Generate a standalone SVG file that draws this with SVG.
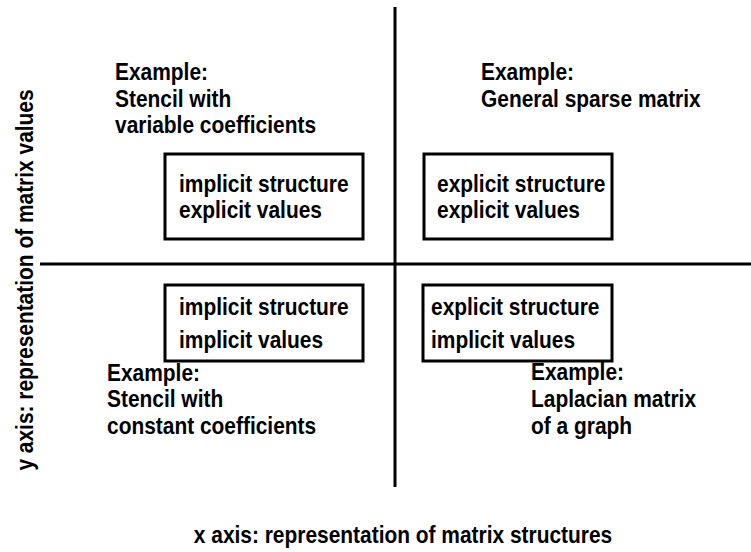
<svg xmlns="http://www.w3.org/2000/svg" width="751" height="552" viewBox="0 0 751 552">
<style>
text{font-family:"Liberation Sans",Arial,sans-serif;font-weight:bold;font-size:23px;fill:#000}
.box{fill:#fff;stroke:#000;stroke-width:3}
.axis{stroke:#000;stroke-width:3;fill:none}
</style>
<rect width="751" height="552" fill="#fff"/>
<g id="connectors">
<line class="axis" x1="395" y1="7" x2="395" y2="487"/>
<line class="axis" x1="40" y1="264" x2="751" y2="264"/>
</g>
<g id="box-tl"><rect class="box" x="165" y="154" width="198" height="85"/>
<text transform="translate(179,192) scale(0.91,1)">implicit structure</text><text transform="translate(179,218) scale(0.91,1)">explicit values</text></g>
<g id="box-tr"><rect class="box" x="424" y="154" width="188" height="85"/>
<text transform="translate(437,192) scale(0.91,1)">explicit structure</text><text transform="translate(437,218) scale(0.91,1)">explicit values</text></g>
<g id="box-bl"><rect class="box" x="165" y="285" width="198" height="76"/>
<text transform="translate(179,315) scale(0.91,1)">implicit structure</text><text transform="translate(179,348) scale(0.91,1)">implicit values</text></g>
<g id="box-br"><rect class="box" x="423" y="285" width="189" height="76"/>
<text transform="translate(431,315) scale(0.91,1)">explicit structure</text><text transform="translate(431,348) scale(0.91,1)">implicit values</text></g>
<g id="ex-tl"><text transform="translate(115,80) scale(0.91,1)">Example:</text><text transform="translate(115,107) scale(0.91,1)">Stencil with</text><text transform="translate(115,133) scale(0.91,1)">variable coefficients</text></g>
<g id="ex-tr"><text transform="translate(481,80) scale(0.91,1)">Example:</text><text transform="translate(481,107) scale(0.91,1)">General sparse matrix</text></g>
<g id="ex-bl"><text transform="translate(107,381) scale(0.91,1)">Example:</text><text transform="translate(107,407) scale(0.91,1)">Stencil with</text><text transform="translate(107,434) scale(0.91,1)">constant coefficients</text></g>
<g id="ex-br"><text transform="translate(531,380) scale(0.91,1)">Example:</text><text transform="translate(531,407) scale(0.91,1)">Laplacian matrix</text><text transform="translate(531,434) scale(0.91,1)">of a graph</text></g>
<g id="x-label"><text transform="translate(403,543) scale(0.91,1)" text-anchor="middle">x axis: representation of matrix structures</text></g>
<g id="y-label"><text transform="translate(33,280) rotate(-90) scale(0.91,1)" text-anchor="middle">y axis: representation of matrix values</text></g>
</svg>
